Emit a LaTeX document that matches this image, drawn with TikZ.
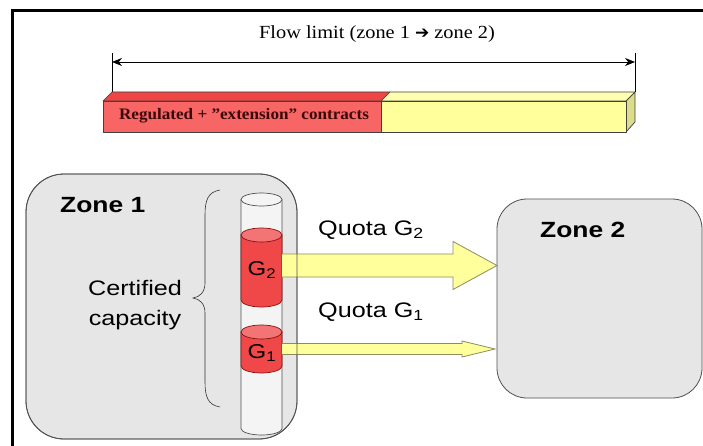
\documentclass[tikz,border=0pt]{standalone}
\usepackage{fontspec}
\setmainfont{Liberation Serif}
\newfontfamily\flowfont[FakeStretch=1.1]{Liberation Serif}
\newfontfamily\barfont[FakeStretch=1.07]{Liberation Serif}
\newfontfamily\arialfont[FakeStretch=1.2]{Liberation Sans}
\newfontfamily\symfont{DejaVu Sans}
\usetikzlibrary{calc,arrows.meta}

\definecolor{zonefill}{HTML}{E6E6E6}
\definecolor{zoneedge}{HTML}{505050}
\definecolor{tubefill}{HTML}{F4F4F4}
\definecolor{redside}{HTML}{F04848}
\definecolor{redtop}{HTML}{F27474}
\definecolor{redline}{HTML}{8A1010}
\definecolor{barred}{HTML}{F76565}
\definecolor{barredtop}{HTML}{F04545}
\definecolor{baryellow}{HTML}{FFFF9C}
\definecolor{baryellowtop}{HTML}{FFFFB0}
\definecolor{baryellowside}{HTML}{DCDC8A}
\definecolor{quotafill}{HTML}{FFFF9C}
\definecolor{quotaline}{HTML}{8C8C60}
\definecolor{labelbrown}{HTML}{3A0808}

\tikzset{
  zonebox/.style={draw=zoneedge, fill=zonefill, line width=0.8pt, inner sep=0pt, outer sep=0pt},
  zonetitle/.style={font=\arialfont\bfseries\fontsize{22}{26}\selectfont, anchor=west, inner sep=0pt},
  sanslabel/.style={font=\arialfont\fontsize{21}{30}\selectfont, inner sep=0pt},
  quota/.style={fill=quotafill, draw=quotaline, line width=0.8pt, line join=miter},
  redcyl/.style={fill=redside, draw=redline, line width=0.7pt},
  redcap/.style={fill=redtop, draw=redline, line width=0.7pt},
  tubeline/.style={draw=zoneedge, line width=0.7pt},
  barface/.style={draw=black!75, line width=0.7pt, line join=round},
}

\begin{document}
\begin{tikzpicture}[x=1pt, y=-1pt]
\useasboundingbox (0,0) rectangle (703,446);
\fill[white] (0,0) rectangle (703,446);

% outer frame (left and top edges)
\draw[line width=3pt] (12.5,446) -- (12.5,10.5) -- (703,10.5);

% ---------- flow limit bar ----------
\node[inner sep=0pt, anchor=base] (flowtext) at (377,39)
  {\flowfont\fontsize{18.5}{22}\selectfont Flow limit (zone 1 {\symfont\fontsize{17}{22}\selectfont ➔} zone 2)};

\coordinate (barL) at (112,92);
\coordinate (barR) at (635,92);
\coordinate (tickL) at (112,53);
\coordinate (tickR) at (635,53);
\draw[line width=0.6pt] (tickL) -- (barL);
\draw[line width=0.6pt] (tickR) -- (barR);
\coordinate (measL) at (112,62);
\coordinate (measR) at (635,62);
\draw[line width=0.9pt, {Stealth[length=10pt,width=8pt]}-{Stealth[length=10pt,width=8pt]}] (measL) -- (measR);

% bar faces
\filldraw[barface, fill=barredtop] (103,101) -- (112,92) -- (390,92) -- (381,101) -- cycle;
\filldraw[barface, fill=baryellowtop] (381,101) -- (390,92) -- (635,92) -- (626,101) -- cycle;
\filldraw[barface, fill=baryellowside] (626,101) -- (635,92) -- (635,122) -- (626,132) -- cycle;
\filldraw[barface, fill=barred] (103,101) rectangle (381,132);
\filldraw[barface, fill=baryellow] (381,101) rectangle (626,132);
\node[inner sep=0pt, anchor=base, text=labelbrown, font=\barfont\bfseries\fontsize{16}{18}\selectfont] (barlabel) at (244,120)
  {Regulated + ”extension” contracts};

% ---------- zones ----------
\node[zonebox, rounded corners=38pt, minimum width=271pt, minimum height=265pt] (zone1) at (161.5,306.5) {};
\node[zonebox, rounded corners=30pt, minimum width=205pt, minimum height=199pt] (zone2) at (599.5,298.5) {};
\node[zonetitle] (z1title) at (60,205) {Zone 1};
\node[zonetitle] (z2title) at (540,230) {Zone 2};

\node[sanslabel, align=center, anchor=base] (certified) at (135,325) {Certified\\capacity};

% curly brace
\coordinate (brTop) at (220,190);
\coordinate (brTip) at (193,298);
\coordinate (brBot) at (220,407);
\draw[line width=0.6pt, black!80] (brTop) .. controls (208,192) and (205,200) .. (205,215)
  -- (205,283) .. controls (205,292) and (200,297) .. (brTip)
  .. controls (200,299) and (205,304) .. (205,313)
  -- (205,382) .. controls (205,397) and (208,405) .. (brBot);

% ---------- capacity tube ----------
\node[inner sep=0pt, outer sep=0pt, minimum width=41pt, minimum height=229pt] (tube) at (261.5,314) {};
\fill[tubefill] (241,199.5) -- (241,428.5) arc[start angle=180, end angle=0, x radius=20.5, y radius=6.5] -- (282,199.5) -- cycle;
\draw[tubeline] (241,199.5) -- (241,428.5) arc[start angle=180, end angle=0, x radius=20.5, y radius=6.5] -- (282,199.5);
\draw[tubeline, fill=tubefill] (261.5,199.5) ellipse[x radius=20.5, y radius=6.5];

% G2 block
\node[inner sep=0pt, outer sep=0pt, minimum width=41pt, minimum height=65pt] (g2) at (261.5,267.5) {};
\draw[redcyl] (241,235) -- (241,300) arc[start angle=180, end angle=0, x radius=20.5, y radius=7] -- (282,235) -- cycle;
\draw[redcap] (261.5,235) ellipse[x radius=20.5, y radius=7];
\node[font=\arialfont\fontsize{20}{24}\selectfont, inner sep=0pt] (g2label) at (262,270) {G\textsubscript{2}};

% G1 block
\node[inner sep=0pt, outer sep=0pt, minimum width=41pt, minimum height=34pt] (g1) at (261.5,349) {};
\draw[redcyl] (241,332) -- (241,366) arc[start angle=180, end angle=0, x radius=20.5, y radius=7] -- (282,332) -- cycle;
\draw[redcap] (261.5,332) ellipse[x radius=20.5, y radius=7];
\node[font=\arialfont\fontsize{20}{24}\selectfont, inner sep=0pt] (g1label) at (262,353) {G\textsubscript{1}};

% ---------- quota arrows ----------
\coordinate (a2s) at ($(g2.east)+(0,-2)$);
\coordinate (a2t) at (zone2.west |- a2s);
\draw[quota] ($(a2s)+(0,-11.5)$) -- ($(a2t)+(-44,-11.5)$) -- ($(a2t)+(-44,-24)$) -- (a2t)
  -- ($(a2t)+(-44,24)$) -- ($(a2t)+(-44,11.5)$) -- ($(a2s)+(0,11.5)$);

\coordinate (a1s) at (g1.east);
\coordinate (a1t) at ($(zone2.west |- a1s)+(-2,0)$);
\draw[quota] ($(a1s)+(0,-5.5)$) -- ($(a1t)+(-33,-5.5)$) -- ($(a1t)+(-33,-8)$) -- (a1t)
  -- ($(a1t)+(-33,8)$) -- ($(a1t)+(-33,5.5)$) -- ($(a1s)+(0,5.5)$);

% zone 1 edge stays visible across the arrow shafts
\draw[draw=zoneedge, line width=0.8pt, rounded corners=38pt] (zone1.north west) rectangle (zone1.south east);

\node[sanslabel, anchor=west] (q2) at (318,230) {Quota G\textsubscript{2}};
\node[sanslabel, anchor=west] (q1) at (318,312) {Quota G\textsubscript{1}};
\end{tikzpicture}
\end{document}
